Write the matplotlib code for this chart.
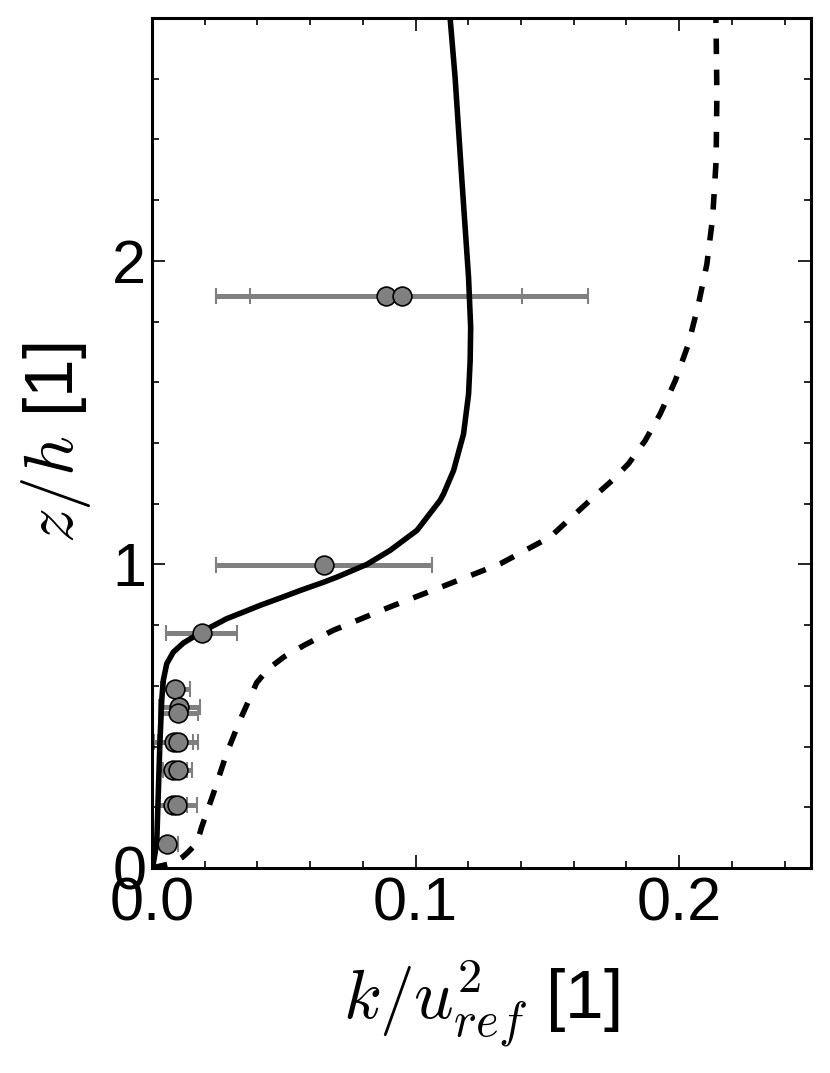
import matplotlib
matplotlib.use("Agg")
import matplotlib.pyplot as plt

plt.rcParams['font.family'] = ['Liberation Sans', 'DejaVu Sans']
plt.rcParams['mathtext.fontset'] = 'cm'

# Solid model curve (k/u_ref^2, z/h)
solid_k = [0.0, 0.0005, 0.0018, 0.0024, 0.0030, 0.0037, 0.0043, 0.0056, 0.0081,
           0.0119, 0.0189, 0.0283, 0.0347, 0.0410, 0.0498, 0.0562, 0.0650, 0.0701,
           0.0815, 0.0903, 0.1005, 0.1030, 0.1093, 0.1106, 0.1144, 0.1182, 0.1201,
           0.1207, 0.1209, 0.1201, 0.1175, 0.1150, 0.1131]
solid_z = [0.0, 0.015, 0.081, 0.245, 0.410, 0.553, 0.618, 0.673, 0.711,
           0.741, 0.778, 0.821, 0.843, 0.865, 0.893, 0.914, 0.941, 0.958,
           1.000, 1.046, 1.112, 1.140, 1.211, 1.232, 1.309, 1.430, 1.561,
           1.671, 1.780, 1.945, 2.274, 2.603, 2.800]

# Dashed model curve
dash_k = [0.0, 0.0040, 0.0080, 0.0115, 0.0132, 0.0170, 0.0189, 0.0233, 0.0283, 0.0334,
          0.0397, 0.0440, 0.0500, 0.0580, 0.0688, 0.0903, 0.1131, 0.1321, 0.1510, 0.1688,
          0.1745, 0.1808, 0.1871, 0.1928, 0.1985, 0.2035, 0.2073, 0.2105, 0.2127, 0.2140,
          0.2143, 0.2140, 0.2139]
dash_z = [0.0, 0.008, 0.016, 0.035, 0.048, 0.081, 0.136, 0.245, 0.377, 0.487,
          0.610, 0.655, 0.695, 0.735, 0.783, 0.860, 0.937, 1.002, 1.090, 1.232,
          1.276, 1.332, 1.408, 1.496, 1.605, 1.726, 1.857, 1.989, 2.143, 2.329,
          2.548, 2.767, 2.800]

# Measurements
meas_z = [1.885, 1.885, 0.997, 0.774, 0.590, 0.531, 0.509, 0.415, 0.415,
          0.322, 0.322, 0.207, 0.207, 0.078]
meas_k = [0.0888, 0.0949, 0.0653, 0.0189, 0.0089, 0.0104, 0.0100, 0.0083, 0.0100,
          0.0081, 0.0097, 0.0078, 0.0094, 0.0056]
meas_err = [0.0516, 0.0705, 0.0411, 0.0134, 0.0055, 0.0078, 0.0073, 0.0074, 0.0076,
            0.0053, 0.0056, 0.0054, 0.0076, 0.0044]

x_ticks = [0.0, 0.1, 0.2]
x_ticklabels = ['0.0', '0.1', '0.2']
y_ticks = [0, 1, 2]
y_ticklabels = ['0', '1', '2']

fig = plt.figure(figsize=(8.30, 10.73), dpi=100)
ax = fig.add_axes([0.1831, 0.1911, 0.9771 - 0.1831, 0.9832 - 0.1911])

ax.errorbar(meas_k, meas_z, xerr=meas_err, fmt='none', ecolor='#808080',
            elinewidth=3.6, capsize=6, capthick=1.5, zorder=1)
ax.plot(solid_k, solid_z, color='black', lw=4.0, zorder=2,
        solid_joinstyle='round')
ax.plot(dash_k, dash_z, color='black', lw=4.0, dashes=(2.8, 2.8), zorder=2)
ax.plot(meas_k, meas_z, 'o', ms=13.5, mfc='#808080', mec='black', mew=1.2,
        linestyle='none', zorder=3)

ax.set_xlim(0, 0.25)
ax.set_ylim(0, 2.8)
ax.set_xticks(x_ticks)
ax.set_xticklabels(x_ticklabels)
ax.set_yticks(y_ticks)
ax.set_yticklabels(y_ticklabels)
ax.set_xticks([i * 0.02 for i in range(13)], minor=True)
ax.set_yticks([i * 0.2 for i in range(15)], minor=True)

ax.tick_params(which='both', direction='in', top=True, right=True, width=1.2)
ax.tick_params(which='major', length=9.5, labelsize=44)
ax.tick_params(axis='x', which='major', pad=6)
ax.tick_params(axis='y', which='major', pad=4)
ax.tick_params(which='minor', length=5)
for sp in ax.spines.values():
    sp.set_linewidth(2.2)

ax.set_xlabel(r'$k/u_{ref}^2$ [1]', fontsize=50, labelpad=18)
ax.set_ylabel(r'$z/h$ [1]', fontsize=50, labelpad=14)

fig.savefig('out.png', dpi=100)
